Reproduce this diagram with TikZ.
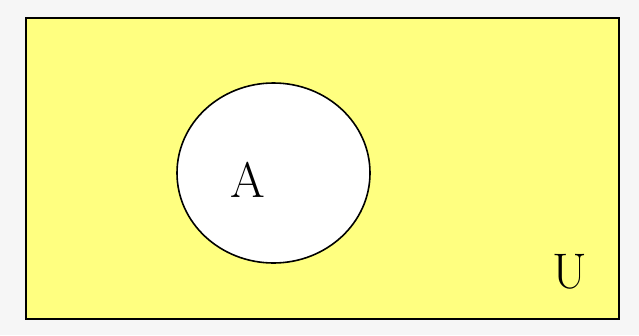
\documentclass[tikz,border=0pt]{standalone}
\usepackage{tikz}
\usepackage{xcolor}
\usetikzlibrary{shapes.geometric, positioning}

\definecolor{fondo}{RGB}{246,246,246}
\definecolor{amarillo}{RGB}{255,255,128}

\begin{document}
\begin{tikzpicture}[x=1pt, y=-1pt,
        % Estilo para el conjunto universal
        universo/.style={
            rectangle,
            draw=black,
            line width=2.5pt,
            fill=amarillo,
            minimum width=593pt,
            minimum height=301pt,
            inner sep=0pt
        },
        % Estilo para el conjunto A
        conjunto/.style={
            ellipse,
            draw=black,
            line width=1.6pt,
            fill=white,
            minimum width=193pt,
            minimum height=180pt,
            inner sep=0pt
        },
        % Estilo para las letras
        letra/.style={
            font=\fontsize{50}{60}\selectfont,
            text=black,
            inner sep=0pt
        }
    ]

        % Fondo y margenes
        \fill[fondo] (0,0) rectangle (639,335);
        \useasboundingbox (0,0) rectangle (639,335);

        % Nodos por coordenadas
        \node[universo] (univ) at (322.5,168.5) {};

        \node[conjunto] (conjA) at (273.5,173) {};

        \node[letra] (etqA) at (248,180) {A};

        \node[letra] (etqU) at (570,272) {U};

    \end{tikzpicture}
\end{document}
